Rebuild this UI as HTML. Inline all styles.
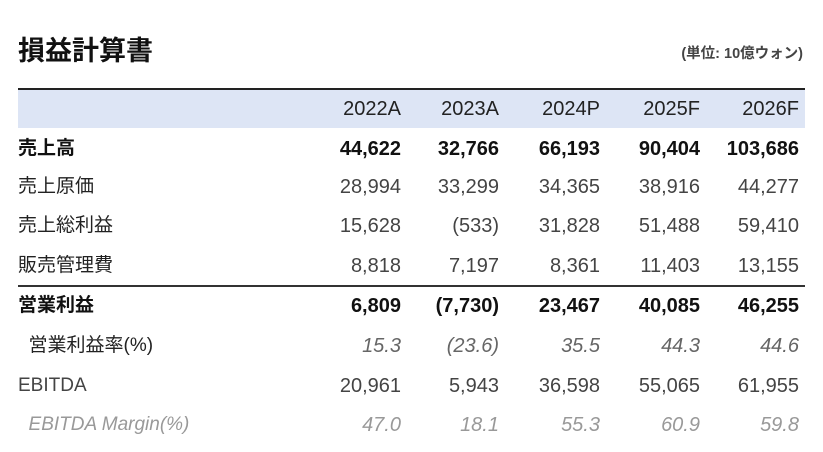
<!DOCTYPE html>
<html><head><meta charset="utf-8"><style>
body{margin:0;width:823px;height:452px;background:#fff;position:relative;overflow:hidden;font-family:"Liberation Sans","Noto Sans CJK JP",sans-serif;color:#222}
.t{position:absolute;white-space:nowrap;line-height:1}
.r{position:absolute;white-space:nowrap;line-height:1;text-align:right;width:120px}
.b{font-weight:bold;color:#111}
.g{color:#444}
.i{font-style:italic;color:#666}
.ii{font-style:italic;color:#999}
</style></head><body>
<div class="t b" style="left:18px;top:38px;font-size:27px;color:#111">損益計算書</div>
<div class="t b" style="right:20px;top:47px;font-size:14.5px;color:#444">(単位: 10億ウォン)</div>
<div style="position:absolute;left:18px;top:88px;width:787px;height:2px;background:#222"></div>
<div style="position:absolute;left:18px;top:90px;width:787px;height:38px;background:#dde5f5"></div>
<div style="position:absolute;left:18px;top:285px;width:787px;height:2px;background:#333"></div>
<div id="c"></div>
<script>
const cols=[401,499,600,700,799];
const rows=[
["",["2022A","2023A","2024P","2025F","2026F"],99,"",""],
["売上高",["44,622","32,766","66,193","90,404","103,686"],139,"b","b"],
["売上原価",["28,994","33,299","34,365","38,916","44,277"],177,"","g"],
["売上総利益",["15,628","(533)","31,828","51,488","59,410"],216,"","g"],
["販売管理費",["8,818","7,197","8,361","11,403","13,155"],256,"","g"],
["営業利益",["6,809","(7,730)","23,467","40,085","46,255"],296,"b","b"],
["&nbsp;&nbsp;営業利益率(%)",["15.3","(23.6)","35.5","44.3","44.6"],336,"","i"],
["EBITDA",["20,961","5,943","36,598","55,065","61,955"],376,"g","g"],
["&nbsp;&nbsp;EBITDA Margin(%)",["47.0","18.1","55.3","60.9","59.8"],415,"ii","ii"]];
let h="";
rows.forEach(r=>{
 if(r[0])h+=`<div class="t ${r[3]}" style="left:18px;top:${r[2]}px;font-size:19px">${r[0]}</div>`;
 r[1].forEach((v,k)=>{h+=`<div class="r ${r[4]}" style="left:${cols[k]-120}px;top:${r[2]}px;font-size:20px">${v}</div>`});
});
document.getElementById("c").innerHTML=h;
</script>
</body></html>
